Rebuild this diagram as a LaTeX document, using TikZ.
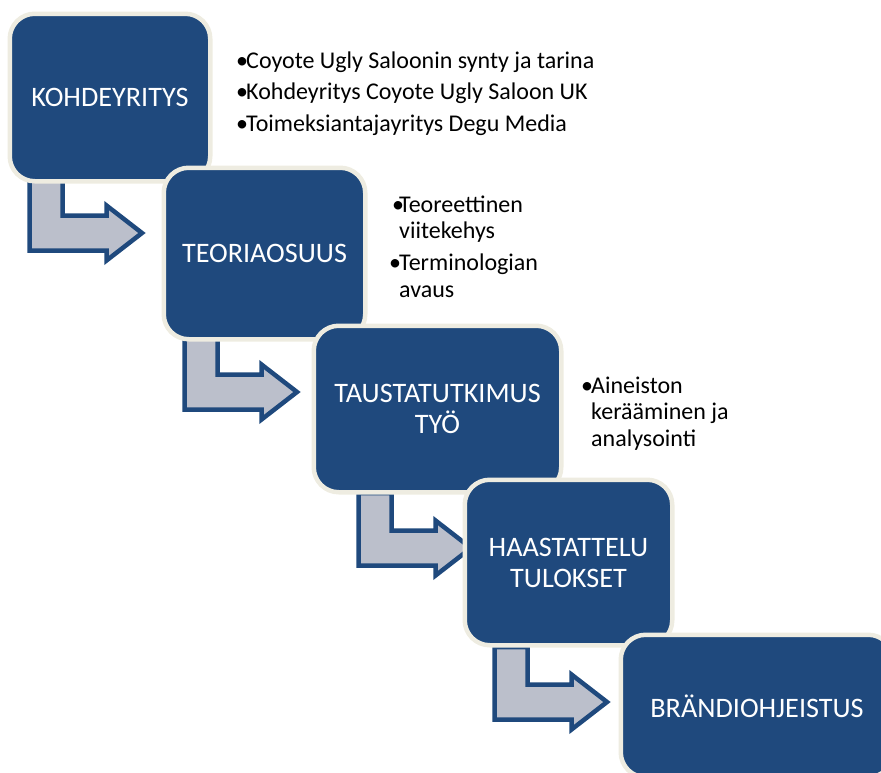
\documentclass[tikz,border=0pt]{standalone}
\usepackage{fontspec}
\setmainfont{Carlito}
\usetikzlibrary{positioning,backgrounds}
\definecolor{boxblue}{RGB}{31,73,125}
\definecolor{boxrim}{RGB}{238,236,225}
\definecolor{arrowgray}{RGB}{187,191,203}
\newcommand{\bul}{\makebox[10pt][l]{\textbullet}}
\newcommand{\ind}{\hspace*{10pt}}

\begin{document}
\begin{tikzpicture}[x=1pt,y=-1pt]
        \tikzset{
          stage/.style={draw=boxrim,fill=boxblue,line width=4.5pt,rounded corners=25pt,
            text=white,align=center,inner sep=0pt,outer sep=0pt,
            font=\fontsize{28.2}{31}\selectfont},
          notes/.style={align=left,inner sep=0pt,anchor=base west,
            font=\fontsize{24}{26.4}\selectfont},
        }
        \tikzset{
            bentarrow/.pic ={
              \draw[draw=boxblue,fill=arrowgray,line width=4.5pt]
                (-112.5,-55) -- (-112.5,17.5) -- (-35.5,17.5) -- (-35.5,27.5)
                -- (0,0) -- (-35.5,-27.5) -- (-35.5,-17.5) -- (-79.5,-17.5)
                -- (-79.5,-55) -- cycle;
            },
          }
        \useasboundingbox (0,0) rectangle (881,772);
        %STAGES
        \node[stage,minimum width=200.5pt,minimum height=167.5pt] (b1) at (110,97.5) {KOHDEYRITYS};
        \node[stage,minimum width=201.5pt,minimum height=171.5pt] (b2) at (264.5,253.5) {TEORIAOSUUS};
        \node[stage,minimum width=247.5pt,minimum height=166.5pt] (b3) at (437.5,409) {TAUSTATUTKIMUS\\TYÖ};
        \node[stage,minimum width=207.5pt,minimum height=165.5pt] (b4) at (568.5,562.5) {HAASTATTELU\\TULOKSET};
        \node[stage,minimum width=272.5pt,minimum height=142.5pt] (b5) at (757,706) {BRÄNDIOHJEISTUS};
        %NOTES (anchored at the baseline of the last line)
        \node[notes] (n1) at (236,131) {\bul Coyote Ugly Saloonin synty ja tarina\\[5.1pt]
          \bul Kohdeyritys Coyote Ugly Saloon UK\\[5.1pt]
          \bul Toimeksiantajayritys Degu Media};
        \node[notes] (n2) at (389,297) {\hspace*{3pt}\makebox[7pt][l]{\textbullet}Teoreettinen\\ \ind viitekehys\\[5.6pt]
          \bul Terminologian\\ \ind avaus};
        \node[notes] (n3) at (581,446) {\bul Aineiston\\ \ind kerääminen ja\\ \ind analysointi};
        %ARROWS
        \begin{pgfonlayer}{background}
          \foreach \nxt/\dx/\dy in {b2/-21.75/-65.25,b3/-16.75/-66.25,b4/6.25/-68.25,b5/-13.75/-67.25}{
            \pic at ([xshift=\dx pt,yshift=\dy pt]\nxt.north west) {bentarrow};
          }
        \end{pgfonlayer}
    \end{tikzpicture}
\end{document}
